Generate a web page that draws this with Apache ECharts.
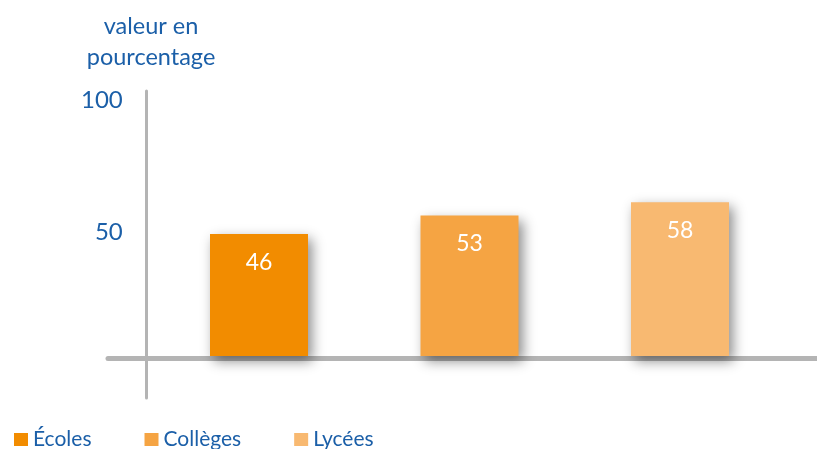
<!DOCTYPE html>
<html><head><meta charset="utf-8">
<script src="https://cdn.jsdelivr.net/npm/echarts@6/dist/echarts.min.js"></script>
<style>html,body{margin:0;padding:0;background:#fff}#c{width:817px;height:449px}</style>
</head><body><div id="c"></div>
<script>
const categories = ['Écoles', 'Collèges', 'Lycées'];
const values = [46, 53, 58];
const colors = ['#f28c00', '#f5a443', '#f8b971'];
const yTicks = [50, 100];
const titleText = 'valeur en\npourcentage';

const FONT = 'Lato';
const BLUE = '#1b5fa8';
const GREY = '#b4b4b4';

const series = categories.map((name, i) => ({
  name: name,
  type: 'bar',
  stack: 'all',
  xAxisIndex: 0, yAxisIndex: 0,
  barWidth: 98,
  data: values.map((v, j) => j === i ? v : '-'),
  itemStyle: {
    color: colors[i],
    shadowColor: 'rgba(0,0,0,0.45)',
    shadowBlur: 12,
    shadowOffsetX: 4,
    shadowOffsetY: 5
  },
  label: {
    show: true, position: 'insideTop', distance: 17,
    color: '#fff', fontFamily: FONT, fontSize: 23
  }
}));

const chart = echarts.init(document.getElementById('c'), null, {renderer: 'canvas'});
chart.setOption({
  animation: false,
  backgroundColor: '#fff',
  title: {
    text: titleText, left: 146, top: 6, textAlign: 'center',
    textStyle: {color: BLUE, fontFamily: FONT, fontWeight: 'normal', fontSize: 23.5, lineHeight: 31}
  },
  legend: {
    left: 9, top: 424, itemWidth: 14, itemHeight: 13, itemGap: 53,
    icon: 'rect', data: categories,
    textStyle: {color: BLUE, fontFamily: FONT, fontSize: 21}
  },
  grid: [
    {left: 153.75, right: 31.75, top: 91, bottom: 93},
    {left: 108, right: 0, top: 91, bottom: 51}
  ],
  xAxis: [
    {gridIndex: 0, type: 'category', data: categories,
     axisLine: {show: false}, axisTick: {show: false}, axisLabel: {show: false}},
    {gridIndex: 1, type: 'value', min: -38, max: 671,
     axisLine: {show: true, onZero: true, lineStyle: {color: GREY, width: 5}},
     axisTick: {show: false}, axisLabel: {show: false}, splitLine: {show: false}}
  ],
  yAxis: [
    {gridIndex: 0, type: 'value', min: 0, max: 100, interval: 50,
     axisLine: {show: false}, axisTick: {show: false}, splitLine: {show: false},
     axisLabel: {
       margin: 31, verticalAlign: 'top', lineHeight: 18, color: BLUE, fontFamily: FONT, fontSize: 24,
       formatter: v => yTicks.includes(v) ? String(v) : ''
     }},
    {gridIndex: 1, type: 'value', min: -40, max: 267,
     axisLine: {show: true, onZero: true, lineStyle: {color: GREY, width: 3}},
     axisTick: {show: false}, axisLabel: {show: false}, splitLine: {show: false}}
  ],
  series: series
});
</script></body></html>
